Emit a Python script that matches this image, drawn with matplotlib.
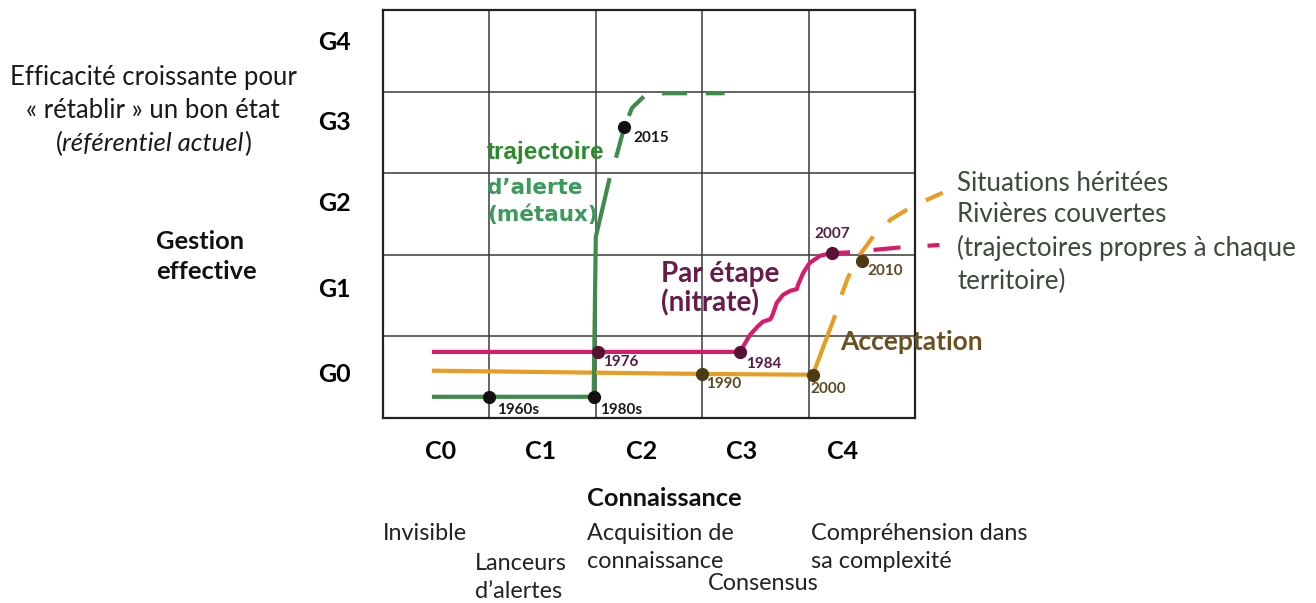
import matplotlib
matplotlib.use('Agg')
import matplotlib.pyplot as plt

W, H = 1316, 603

# ---------------- data ----------------
x_labels = ['C0', 'C1', 'C2', 'C3', 'C4']
x_label_pos = [0.54, 1.48, 2.43, 3.37, 4.32]
y_labels = ['G0', 'G1', 'G2', 'G3', 'G4']
y_label_pos = [0.56, 1.60, 2.65, 3.65, 4.63]

# metals (green) trajectory
metal_x = [0.46, 1.00, 1.98, 2.00, 2.13]
metal_y = [0.26, 0.26, 0.26, 2.22, 2.94]
metal_dash_x = [2.19, 2.265, 2.34, 2.46, 2.65, 3.21]
metal_dash_y = [3.19, 3.55, 3.80, 3.95, 3.98, 3.98]
metal_pts_x = [1.00, 1.98, 2.265]
metal_pts_y = [0.26, 0.26, 3.57]
metal_years = ['1960s', '1980s', '2015']

# nitrate (magenta) trajectory
nit_x = [0.46, 2.02, 3.355, 3.40, 3.45, 3.52, 3.57, 3.64, 3.66, 3.70, 3.76,
         3.83, 3.89, 3.90, 3.95, 4.01, 4.11, 4.22, 4.39]
nit_y = [0.81, 0.81, 0.81, 0.91, 1.02, 1.12, 1.18, 1.21, 1.26, 1.41, 1.51,
         1.56, 1.58, 1.63, 1.78, 1.90, 1.99, 2.02, 2.03]
nit_dash_x = [4.61, 4.86, 5.23]
nit_dash_y = [2.06, 2.09, 2.12]
nit_pts_x = [2.02, 3.355, 4.22]
nit_pts_y = [0.81, 0.81, 2.02]
nit_years = ['1976', '1984', '2007']

# acceptation (orange) trajectory
acc_x = [0.46, 3.00, 4.04, 4.25]
acc_y = [0.58, 0.54, 0.53, 1.26]
acc_dash_x = [4.31, 4.37, 4.47, 4.61, 4.77, 4.97, 5.26]
acc_dash_y = [1.51, 1.72, 1.98, 2.23, 2.43, 2.59, 2.76]
acc_pts_x = [3.00, 4.04, 4.50]
acc_pts_y = [0.54, 0.53, 1.92]
acc_years = ['1990', '2000', '2010']

# ---------------- style ----------------
GREEN = '#3d8c4c'
MAGENTA = '#d81b6b'
ORANGE = '#e89c22'
FONT = 'Lato'

fig = plt.figure(figsize=(W / 100, H / 100), dpi=100)
fig.patch.set_facecolor('white')
ax = fig.add_axes([383 / W, (H - 418) / H, 532 / W, 408 / H])
ax.set_xlim(0, 5)
ax.set_ylim(0, 5)

for s in ax.spines.values():
    s.set_linewidth(1.6)
    s.set_color('#222222')
ax.set_xticks([1, 2, 3, 4], minor=True)
ax.set_yticks([1, 2, 3, 4], minor=True)
ax.grid(which='minor', color='#3a3a3a', linewidth=1.1)
ax.tick_params(which='minor', length=0)
ax.set_xticks(x_label_pos)
ax.set_xticklabels(x_labels, fontfamily=FONT, fontweight='bold', fontsize=18)
ax.set_yticks(y_label_pos)
ax.set_yticklabels(y_labels, fontfamily=FONT, fontweight='bold', fontsize=18)
ax.tick_params(axis='x', length=0, pad=16)
ax.tick_params(axis='y', length=0, pad=23)

LW = 3.0
# lines
ax.plot(acc_x, acc_y, color=ORANGE, lw=LW, solid_capstyle='butt', zorder=3)
ax.plot(acc_dash_x, acc_dash_y, color=ORANGE, lw=LW, dashes=(5.5, 5),
        dash_capstyle='butt', clip_on=False, zorder=3)
ax.plot(nit_x, nit_y, color=MAGENTA, lw=LW, solid_capstyle='butt',
        solid_joinstyle='round', zorder=4)
ax.plot(nit_dash_x, nit_dash_y, color=MAGENTA, lw=LW, dashes=(6.5, 6.5),
        dash_capstyle='butt', clip_on=False, zorder=4)
ax.plot(metal_x, metal_y, color=GREEN, lw=LW, solid_capstyle='butt', zorder=5)
ax.plot(metal_dash_x, metal_dash_y, color=GREEN, lw=LW, dashes=(6, 4.5),
        dash_capstyle='butt', zorder=5)

# points
ax.plot(metal_pts_x, metal_pts_y, 'o', color='#111111', ms=8.5, zorder=6, clip_on=False)
ax.plot(nit_pts_x, nit_pts_y, 'o', color='#5a0f35', ms=8.5, zorder=6, clip_on=False)
ax.plot(acc_pts_x, acc_pts_y, 'o', color='#4d3a12', ms=8.5, zorder=6, clip_on=False)

# year labels
year_kw = dict(fontfamily=FONT, fontweight='bold', fontsize=11, va='center', zorder=7)
metal_lab = [(0.07, -0.16, 'left'), (0.06, -0.16, 'left'), (0.09, -0.14, 'left')]
nit_lab = [(0.05, -0.12, 'left'), (0.055, -0.15, 'left'), (0.0, 0.23, 'center')]
acc_lab = [(0.04, -0.12, 'left'), (-0.02, -0.17, 'left'), (0.05, -0.12, 'left')]
for xs, ys, yrs, offs, col in [
        (metal_pts_x, metal_pts_y, metal_years, metal_lab, '#1a1a1a'),
        (nit_pts_x, nit_pts_y, nit_years, nit_lab, '#5c1a42'),
        (acc_pts_x, acc_pts_y, acc_years, acc_lab, '#5a4a26')]:
    for x, y, t, (dx, dy, ha) in zip(xs, ys, yrs, offs):
        ax.text(x + dx, y + dy, t, color=col, ha=ha, **year_kw)


def px(x, y):
    return x / W, 1 - y / H


# series labels
fig.text(*px(487, 152), 'trajectoire', fontfamily='Liberation Sans', fontweight='bold',
         fontsize=17.5, color='#2c8a2c', va='center', ha='left')
fig.text(*px(487, 188), 'd\u2019alerte', fontfamily='DejaVu Sans', fontweight='bold',
         fontsize=15.5, color='#3a9a5a', va='center', ha='left')
fig.text(*px(487, 215), '(m\u00e9taux)', fontfamily='DejaVu Sans', fontweight='bold',
         fontsize=15.5, color='#3a9a5a', va='center', ha='left')
fig.text(*px(661, 274), 'Par \u00e9tape', fontfamily=FONT, fontweight='bold',
         fontsize=20, color='#6a1a48', va='center', ha='left')
fig.text(*px(661, 303), '(nitrate)', fontfamily=FONT, fontweight='bold',
         fontsize=20, color='#6a1a48', va='center', ha='left')
fig.text(*px(840, 342), 'Acceptation', fontfamily=FONT, fontweight='bold',
         fontsize=19, color='#6b5122', va='center', ha='left')

# right side text
right_kw = dict(fontfamily=FONT, fontsize=18.6, color='#3b4b3a', va='center', ha='left')
for t, y in [('Situations h\u00e9rit\u00e9es', 183), ('Rivi\u00e8res couvertes', 215),
             ('(trajectoires propres \u00e0 chaque', 248), ('territoire)', 281)]:
    fig.text(*px(957, y), t, **right_kw)

# left texts
left_kw = dict(fontfamily=FONT, fontsize=18.5, color='#1a1a1a', va='center')
fig.text(*px(153, 77), 'Efficacit\u00e9 croissante pour', ha='center', **left_kw)
fig.text(*px(153, 111), '\u00ab r\u00e9tablir \u00bb un bon \u00e9tat', ha='center', **left_kw)

# rich line: (référentiel actuel)
renderer = fig.canvas.get_renderer()
pieces = [('(', 'normal'), ('r\u00e9f\u00e9rentiel actuel', 'italic'), (')', 'normal')]
arts = []
for s, st in pieces:
    a = fig.text(0, 1 - 144 / H, s, fontstyle=st, ha='left', **left_kw)
    arts.append(a)
widths = [a.get_window_extent(renderer).width for a in arts]
x0 = 153 - sum(widths) / 2
for a, w in zip(arts, widths):
    a.set_x(x0 / W)
    x0 += w

bold_kw = dict(fontfamily=FONT, fontsize=18.3, fontweight='bold', color='#111111', va='center')
fig.text(*px(156, 241), 'Gestion', ha='left', **bold_kw)
fig.text(*px(156, 272), 'effective', ha='left', **bold_kw)
fig.text(*px(664, 498), 'Connaissance', ha='center', **bold_kw)

# bottom descriptions
bot_kw = dict(fontfamily=FONT, fontsize=16.8, color='#222222', va='center', ha='left')
for t, x, y in [('Invisible', 383, 533), ('Lanceurs', 475, 563), ('d\u2019alertes', 475, 592),
                ('Acquisition de', 587, 533), ('connaissance', 587, 561),
                ('Consensus', 708, 584), ('Compr\u00e9hension dans', 811, 533),
                ('sa complexit\u00e9', 811, 561)]:
    fig.text(*px(x, y), t, **bot_kw)

fig.savefig('out.png', dpi=100, facecolor='white')
